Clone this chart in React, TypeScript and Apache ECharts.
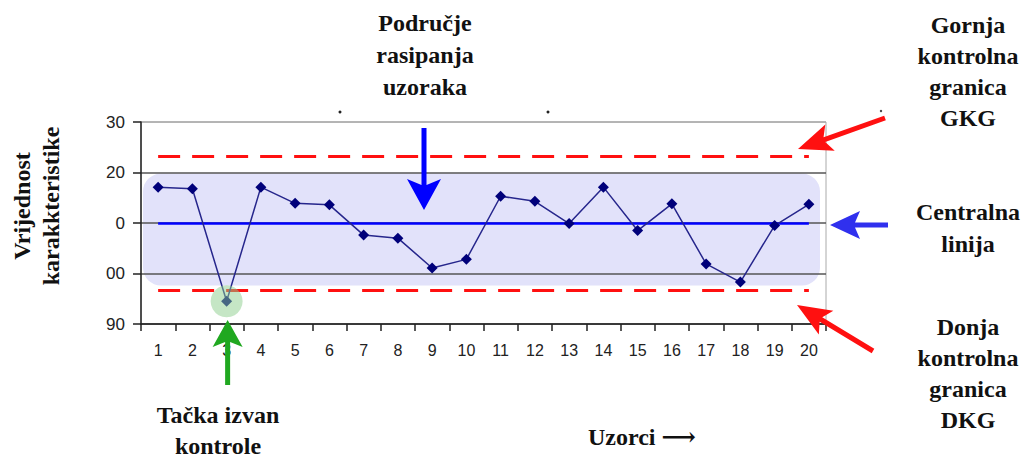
import React, { useEffect, useRef } from "react";
import * as echarts from "echarts";

const categories = ["1","2","3","4","5","6","7","8","9","10","11","12","13","14","15","16","17","18","19","20"];
const values = [117.1, 116.8, 94.5, 117.1, 113.9, 113.6, 107.6, 107.0, 101.1, 102.8, 115.3, 114.3, 109.9, 117.1, 108.5, 113.8, 101.9, 98.3, 109.5, 113.7];
const centralLine = 110;
const upperLimit = 123.3;
const lowerLimit = 96.6;
const bandTop = 119.8;
const bandBottom = 97.6;
const yTickLabels: Record<number, string> = { 90: "90", 100: "00", 110: "0", 120: "20", 130: "30" };
const outOfControlIndex = 2;

const SERIF = "'Liberation Serif', 'DejaVu Serif', serif";
const SANS = "'Liberation Sans', Arial, sans-serif";
const FS = 24;

function arrow(x1: number, y1: number, x2: number, y2: number, w: number, L: number, H: number, n: number, color: string) {
  const dx = x2 - x1, dy = y2 - y1;
  const len = Math.hypot(dx, dy);
  const ux = dx / len, uy = dy / len;
  const vx = -uy, vy = ux;
  const bx = x2 - ux * L, by = y2 - uy * L;
  const pts = [
    [x1 + vx * w / 2, y1 + vy * w / 2],
    [bx + vx * w / 2, by + vy * w / 2],
    [bx - ux * n + vx * H, by - uy * n + vy * H],
    [x2, y2],
    [bx - ux * n - vx * H, by - uy * n - vy * H],
    [bx - vx * w / 2, by - vy * w / 2],
    [x1 - vx * w / 2, y1 - vy * w / 2],
  ];
  return { type: "polygon", z: 100, shape: { points: pts }, style: { fill: color } };
}

function label(lines: string[], cx: number, y0: number, lh: number, size = FS) {
  return lines.map((t, i) => ({
    type: "text",
    z: 100,
    x: cx,
    y: y0 + i * lh,
    style: { text: t, font: `bold ${size}px ${SERIF}`, fill: "#111", align: "center", verticalAlign: "middle" },
  }));
}

export default function App() {
  const ref = useRef<HTMLDivElement>(null);
  useEffect(() => {
    if (!ref.current) return;
    const chart = echarts.init(ref.current, undefined, { renderer: "svg" });
    const gridLeft = 141, gridTop = 122, gridRight = 201, gridBottom = 134;
    chart.setOption({
      animation: false,
      backgroundColor: "#fff",
      grid: { left: gridLeft, top: gridTop, right: gridRight, bottom: gridBottom, show: true, borderColor: "#aaa", borderWidth: 1, backgroundColor: "transparent" },
      xAxis: {
        type: "category",
        data: categories,
        boundaryGap: true,
        z: 5,
        axisLine: { lineStyle: { color: "#222", width: 1.5 } },
        axisTick: { show: true, length: 7, lineStyle: { color: "#222", width: 1.5 } },
        axisLabel: { color: "#222", fontFamily: SANS, fontSize: 16, margin: 18, interval: 0 },
      },
      yAxis: {
        type: "value",
        min: 90,
        max: 130,
        interval: 10,
        z: 5,
        axisLine: { show: true, lineStyle: { color: "#222", width: 1.5 } },
        axisTick: { show: true, length: 8, lineStyle: { color: "#222", width: 1.5 } },
        axisLabel: { color: "#222", fontFamily: SANS, fontSize: 17, margin: 16, formatter: (v: number) => yTickLabels[v] ?? "" },
        splitLine: { show: true, lineStyle: { color: ["#666", "#555", "#555", "#555", "#aaa"], width: 1.5 } },
      },
      series: [
        {
          type: "line",
          data: values,
          z: 10,
          symbol: "diamond",
          symbolSize: 11,
          itemStyle: { color: "#00007a" },
          lineStyle: { color: "#26268c", width: 1.5 },
          markLine: {
            silent: true,
            symbol: "none",
            label: { show: false },
            data: [
              [{ coord: [0, upperLimit], lineStyle: { color: "#ff1010", width: 3, type: [22, 12] } }, { coord: [19, upperLimit] }],
              [{ coord: [0, lowerLimit], lineStyle: { color: "#ff1010", width: 3, type: [22, 12] } }, { coord: [19, lowerLimit] }],
              [{ coord: [0, centralLine], lineStyle: { color: "#0000ff", width: 2.5, type: "solid" } }, { coord: [19, centralLine] }],
            ],
          },
        },
      ],
    });

    const yTop = chart.convertToPixel({ yAxisIndex: 0 }, bandTop) as number;
    const yBot = chart.convertToPixel({ yAxisIndex: 0 }, bandBottom) as number;
    const p3 = chart.convertToPixel({ seriesIndex: 0 }, [outOfControlIndex, values[outOfControlIndex]]) as number[];
    const plotRight = 1027 - gridRight;

    const graphic: any[] = [
      {
        type: "rect",
        z: -1,
        shape: { x: gridLeft + 2, y: yTop, width: plotRight - gridLeft - 8, height: yBot - yTop, r: 18 },
        style: { fill: "#e2e2fa" },
      },
      { type: "circle", z: 100, shape: { cx: p3[0], cy: p3[1], r: 16 }, style: { fill: "rgba(140,205,140,0.5)" } },
      { type: "circle", z: 100, shape: { cx: 340, cy: 112, r: 1.5 }, style: { fill: "#222" } },
      { type: "circle", z: 100, shape: { cx: 548, cy: 112, r: 1.5 }, style: { fill: "#222" } },
      { type: "circle", z: 100, shape: { cx: 881, cy: 111, r: 1.2 }, style: { fill: "#444" } },
      arrow(424, 128, 424, 210, 5, 25, 17, 6, "#0000ff"),
      arrow(885, 118, 798, 149, 5, 28, 14, 6, "#ff1010"),
      arrow(888, 225, 830, 225, 5, 25, 14, 5, "#3030ee"),
      arrow(873, 351, 797, 305, 5, 28, 14, 6, "#ff1010"),
      arrow(p3[0] + 1, 385, p3[0] + 1, 320, 5, 22, 15, 5, "#20a820"),
      ...label(["Područje", "rasipanja", "uzoraka"], 425, 23, 32),
      ...label(["Gornja", "kontrolna", "granica", "GKG"], 968, 25, 31),
      ...label(["Centralna", "linija"], 968, 212, 32),
      ...label(["Donja", "kontrolna", "granica", "DKG"], 968, 327, 31),
      ...label(["Tačka izvan", "kontrole"], 218, 415, 31),
      {
        type: "text",
        z: 100,
        x: 588,
        y: 437,
        style: { text: "Uzorci ⟶", font: `bold ${FS}px ${SERIF}`, fill: "#111", align: "left", verticalAlign: "middle" },
      },
      {
        type: "text",
        z: 100,
        x: 22,
        y: 206,
        rotation: Math.PI / 2,
        style: { text: "Vrijednost", font: `bold ${FS}px ${SERIF}`, fill: "#111", align: "center", verticalAlign: "middle" },
      },
      {
        type: "text",
        z: 100,
        x: 51,
        y: 206,
        rotation: Math.PI / 2,
        style: { text: "karakkteristike", font: `bold ${FS}px ${SERIF}`, fill: "#111", align: "center", verticalAlign: "middle" },
      },
    ];
    chart.setOption({ graphic });
    return () => chart.dispose();
  }, []);
  return <div ref={ref} style={{ position: "absolute", left: 0, top: 0, width: 1027, height: 458 }} />;
}
